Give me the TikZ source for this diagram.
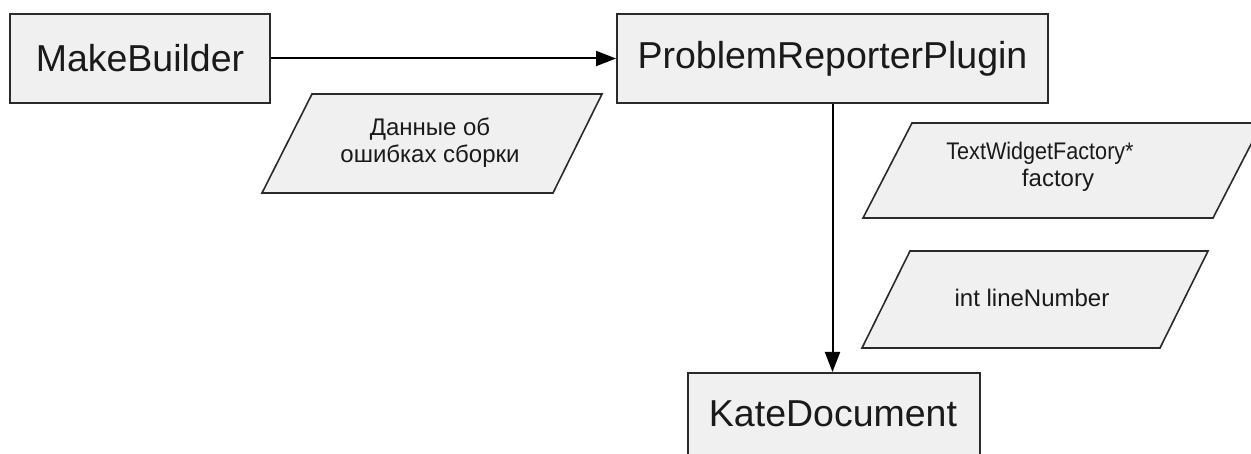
\documentclass[tikz,border=0pt]{standalone}
\usepackage{fontspec}
\setmainfont{Liberation Sans}
\usetikzlibrary{arrows.meta}
\definecolor{boxfill}{HTML}{F0F0F0}
\definecolor{edge}{HTML}{2A2A2A}
\definecolor{ink}{HTML}{1A1A1A}
\begin{document}
\begin{tikzpicture}[x=1pt,y=-1pt,
  block/.style={draw=edge, line width=2pt, fill=boxfill, text=ink,
    font=\fontsize{37.5}{42}\selectfont, inner sep=0pt},
  datashape/.style={draw=edge, line width=1.6pt, fill=boxfill},
  datatext/.style={text=ink, font=\fontsize{24}{27}\selectfont, align=center, inner sep=0pt},
  flow/.style={draw=black, line width=2pt, -{Triangle[length=20pt,width=15pt]}}]
  \useasboundingbox (0,0) rectangle (1251,454);

  % process blocks
  \node[block, minimum width=260pt, minimum height=89pt] (make) at (140,58.5) {MakeBuilder};
  \node[block, minimum width=431pt, minimum height=89pt] (prp) at (832.5,58.5) {ProblemReporterPlugin};
  \node[block, minimum width=292pt, minimum height=90pt] (kate) at (834,418) {};
  \node[text=ink, font=\fontsize{37.5}{42}\selectfont, inner sep=0pt] (katelbl) at (833,414) {KateDocument};

  % data parallelograms
  \path[datashape] (312,94) -- (602,94) -- (553,193) -- (262,193) -- cycle;
  \node[datatext] (builderr) at (430,143) {Данные об\\ошибках сборки};

  \path[datashape] (912,123) -- (1262,123) -- (1213,218) -- (863,218) -- cycle;
  \node[datatext] (factory) at (1058,167)
    {\kern-36pt\scalebox{0.9}[1]{TextWidgetFactory*}\\factory};

  \path[datashape] (910,251) -- (1208,251) -- (1160,348) -- (862,348) -- cycle;
  \node[datatext] (line) at (1032,298) {int lineNumber};

  % connectors
  \draw[flow] (make.east) -- (prp.west);
  \draw[flow] (prp.south) -- (prp.south |- kate.north);
\end{tikzpicture}
\end{document}
